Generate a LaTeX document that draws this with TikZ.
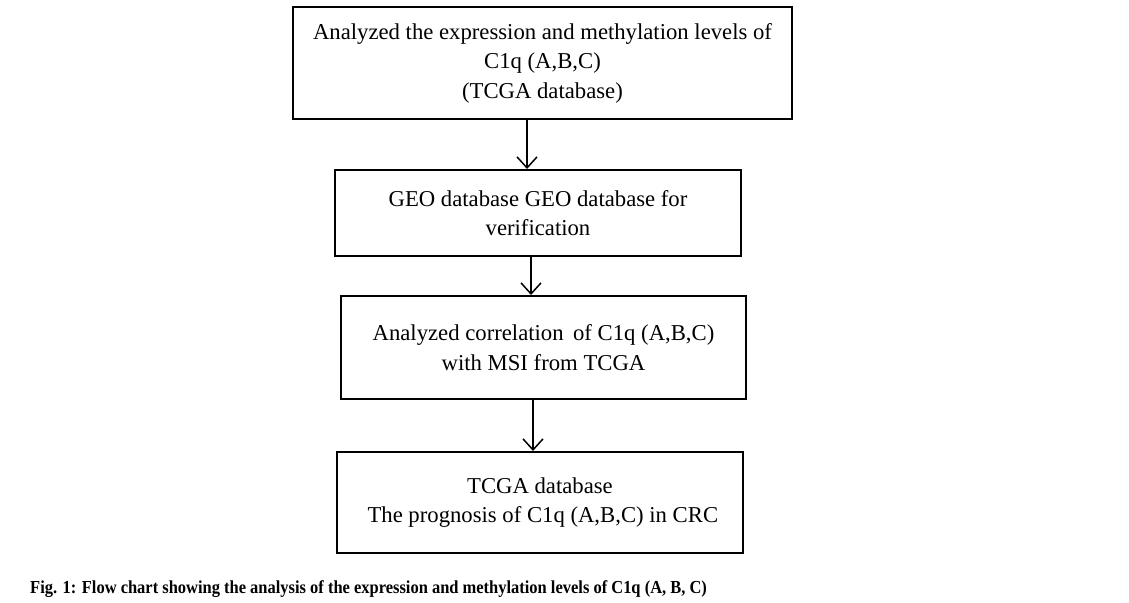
\documentclass[tikz,border=0pt]{standalone}
\usepackage{fontspec}
\setmainfont{Liberation Serif}
\usetikzlibrary{arrows.meta}
\begin{document}
\begin{tikzpicture}[x=1pt,y=-1pt,
  box/.style={draw=black,line width=2pt,align=center,inner sep=0pt,
    font=\fontsize{22.7}{29.5}\selectfont},
  arr/.style={line width=1.5pt,-{Straight Barb[length=11pt,width=20pt,line width=1.5pt]}}]
\useasboundingbox (0,0) rectangle (1129,602);
\node[box,minimum width=499pt,minimum height=112pt] (b1) at (542.5,63)
  {Analyzed the expression and methylation levels of\\C1q (A,B,C)\\(TCGA database)};
\node[box,minimum width=406pt,minimum height=86pt] (b2) at (538,213)
  {GEO database GEO database for\\verification};
\node[box,minimum width=405pt,minimum height=103pt] (b3) at (543.5,347.5)
  {Analyzed correlation\, of C1q (A,B,C)\\with MSI from TCGA};
\node[box,minimum width=406pt,minimum height=101pt] (b4) at (540,502.5)
  {TCGA database\\\ The prognosis of C1q (A,B,C) in CRC};
\coordinate (x1) at (527,0);
\coordinate (x2) at (531,0);
\coordinate (x3) at (533,0);
\draw[arr] (x1 |- b1.south) -- (x1 |- b2.north);
\draw[arr] (x2 |- b2.south) -- (x2 |- b3.north);
\draw[arr] (x3 |- b3.south) -- (x3 |- b4.north);
\node[anchor=west,inner sep=0pt,font=\fontsize{18.3}{20}\selectfont\bfseries] (cap) at (30,589)
  {\addfontfeature{FakeStretch=0.9}Fig. 1: Flow chart showing the analysis of the expression and methylation levels of C1q (A, B, C)};
\end{tikzpicture}
\end{document}
